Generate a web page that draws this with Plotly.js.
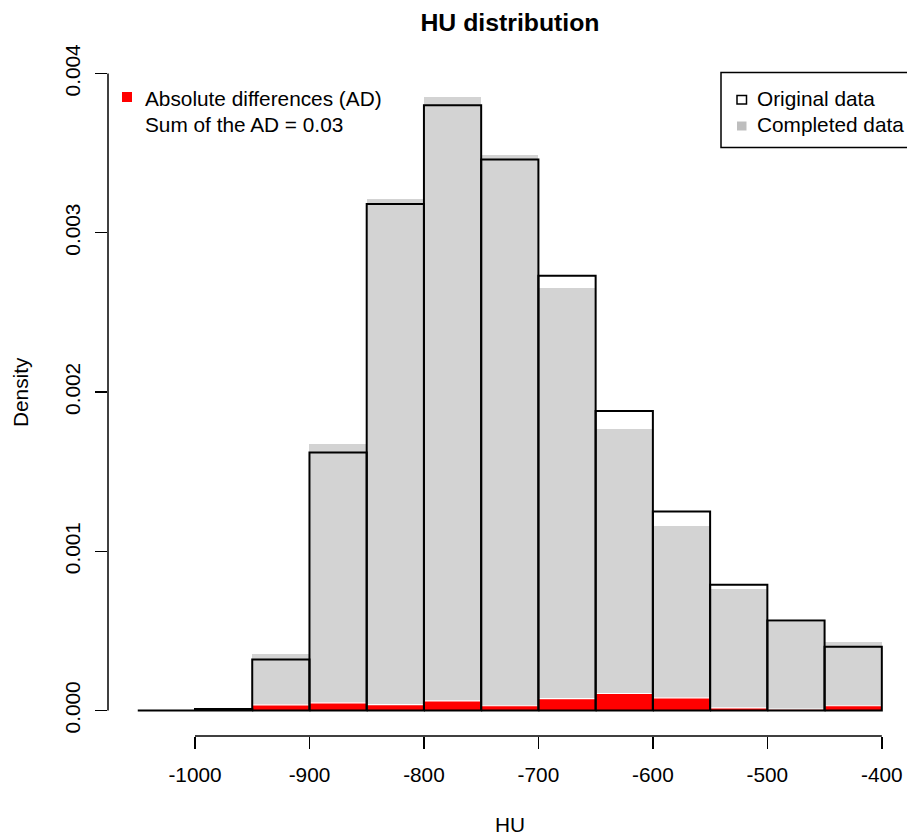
<!DOCTYPE html>
<html>
<head>
<meta charset="utf-8">
<script src="https://cdn.plot.ly/plotly-3.0.1.min.js"></script>
<style>html,body{margin:0;padding:0;background:#fff;}#chart{width:907px;height:838px;}</style>
</head>
<body>
<div id="chart"></div>
<script>
// ---- data ----
var breaks = [-1050, -1000, -950, -900, -850, -800, -750, -700, -650, -600, -550, -500, -450, -400];
var originalDensity = [0, 0.00001, 0.00032, 0.00162, 0.00318, 0.0038, 0.00346, 0.00273, 0.00188, 0.00125, 0.00079, 0.000565, 0.0004];
var completedDensity = [0, 0.00001, 0.000356, 0.001675, 0.00321, 0.003853, 0.003487, 0.002655, 0.00177, 0.00116, 0.000766, 0.000556, 0.000429];
var absDiff = [0, 0, 0.000036, 0.000048, 0.000037, 0.00006, 0.00003, 0.000075, 0.000107, 0.00008, 0.000016, 0.000009, 0.00003];
var xTicks = [-1000, -900, -800, -700, -600, -500, -400];
var yTicks = [0, 0.001, 0.002, 0.003, 0.004];
var sumAD = "0.03";

// ---- derived ----
var mids = [], widths = [];
for (var i = 0; i < breaks.length - 1; i++) {
  mids.push((breaks[i] + breaks[i + 1]) / 2);
  widths.push(breaks[i + 1] - breaks[i]);
}
var ox = [], oy = [];
for (var j = 0; j < originalDensity.length; j++) {
  var a = breaks[j], b = breaks[j + 1], h = originalDensity[j];
  ox.push(a, a, b, b, a, null);
  oy.push(0, h, h, 0, 0, null);
}

var FONT = "Liberation Sans, Arial, Helvetica, sans-serif";
var FS = 20.8;

var L = 108, T = 48, W = 907, H = 838, PW = 799, PH = 688;
function px(x) { return (x - L) / PW; }
function py(y) { return (T + PH - y) / PH; }

var traces = [
  { type: "bar", x: mids, y: completedDensity, width: widths,
    marker: { color: "#D3D3D3", line: { width: 0 } }, showlegend: false, hoverinfo: "x+y" },
  { type: "bar", x: mids, y: absDiff, width: widths,
    marker: { color: "#FF0000", line: { color: "#FFFFFF", width: 1.2 } }, showlegend: false, hoverinfo: "x+y" },
  { type: "scatter", mode: "lines", x: ox, y: oy,
    line: { color: "#000000", width: 2 }, showlegend: false, hoverinfo: "skip", connectgaps: false }
];

var shapes = [
  // axis lines (R style: only between first and last tick)
  { type: "line", xref: "x", yref: "paper", x0: xTicks[0], x1: xTicks[xTicks.length - 1], y0: 0, y1: 0,
    line: { color: "#000", width: 1.5 } },
  { type: "line", xref: "paper", yref: "y", x0: 0, x1: 0, y0: yTicks[0], y1: yTicks[yTicks.length - 1],
    line: { color: "#000", width: 1.5 } },
  // right legend box
  { type: "rect", xref: "paper", yref: "paper", x0: px(721), x1: px(915), y0: py(72.5), y1: py(147.5),
    line: { color: "#000", width: 1.5 }, fillcolor: "#FFFFFF", layer: "above" },
  // legend keys
  { type: "rect", xref: "paper", yref: "paper", x0: px(737), x1: px(746.5), y0: py(95.5), y1: py(104),
    line: { color: "#000", width: 1.5 }, fillcolor: "#FFFFFF", layer: "above" },
  { type: "rect", xref: "paper", yref: "paper", x0: px(737), x1: px(746.5), y0: py(121.5), y1: py(130.5),
    line: { width: 0 }, fillcolor: "#BEBEBE", layer: "above" },
  { type: "rect", xref: "paper", yref: "paper", x0: px(122), x1: px(132), y0: py(92), y1: py(102),
    line: { width: 0 }, fillcolor: "#FF0000", layer: "above" }
];

var ann = function (text, x, y, opts) {
  var o = { text: text, xref: "paper", yref: "paper", x: px(x), y: py(y), showarrow: false,
    xanchor: "left", yanchor: "middle", font: { family: FONT, size: FS, color: "#000" } };
  for (var k in (opts || {})) o[k] = opts[k];
  return o;
};

var annotations = [
  ann("Absolute differences (AD)", 143, 98),
  ann("Sum of the AD = " + sumAD, 143, 125),
  ann("Original data", 755, 98),
  ann("Completed data", 755, 125),
  ann("HU", 510, 825, { xanchor: "center" }),
  ann("Density", 20, 392, { xanchor: "center", textangle: -90 })
];

var layout = {
  width: W, height: H,
  margin: { l: L, r: W - L - PW, t: T, b: H - T - PH, pad: 0 },
  paper_bgcolor: "#FFFFFF", plot_bgcolor: "#FFFFFF",
  barmode: "overlay", bargap: 0,
  font: { family: FONT, size: FS, color: "#000" },
  title: { text: "<b>HU distribution</b>", xref: "container", yref: "container",
    x: 510 / W, y: 1 - 22 / H, xanchor: "center", yanchor: "middle",
    font: { family: FONT, size: 24.8, color: "#000" } },
  xaxis: { range: [-1076, -378], tickmode: "array", tickvals: xTicks, ticktext: xTicks.map(String),
    ticks: "outside", ticklen: 12, tickwidth: 1.5, tickcolor: "#000",
    showline: false, showgrid: false, zeroline: false, automargin: false,
    tickfont: { family: FONT, size: FS, color: "#000" }, ticklabelstandoff: 8 },
  yaxis: { range: [-0.00016, 0.00416], tickmode: "array", tickvals: yTicks,
    ticktext: yTicks.map(function (v) { return v.toFixed(3); }),
    ticks: "outside", ticklen: 12, tickwidth: 1.5, tickcolor: "#000", tickangle: -90,
    showline: false, showgrid: false, zeroline: false, automargin: false,
    tickfont: { family: FONT, size: FS, color: "#000" }, ticklabelstandoff: 7 },
  shapes: shapes,
  annotations: annotations,
  showlegend: false
};

Plotly.newPlot("chart", traces, layout, { staticPlot: true, displayModeBar: false });
</script>
</body>
</html>
